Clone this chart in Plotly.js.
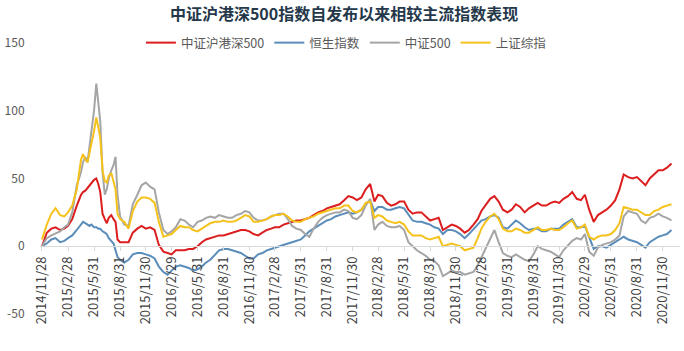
<!DOCTYPE html>
<html>
<head>
<meta charset="utf-8">
<script src="https://cdn.plot.ly/plotly-3.0.1.min.js"></script>
<style>html,body{margin:0;padding:0;background:#fff;}#chart{width:684px;height:351px;}</style>
</head>
<body>
<div id="chart"></div>
<script>
const dates = [
'2014-11-28','2014-12-15','2014-12-31','2015-01-15','2015-01-31','2015-02-15','2015-02-28',
'2015-03-15','2015-03-31','2015-04-08','2015-04-15','2015-04-22','2015-04-30','2015-05-08','2015-05-15','2015-05-22','2015-05-31','2015-06-08',
'2015-06-15','2015-06-22','2015-06-30','2015-07-08','2015-07-15','2015-07-22','2015-07-31','2015-08-08','2015-08-15',
'2015-08-22','2015-08-31','2015-09-15','2015-09-30',
'2015-10-15','2015-10-31','2015-11-15','2015-11-30','2015-12-15','2015-12-31',
'2016-01-15','2016-01-31','2016-02-15','2016-02-29','2016-03-15','2016-03-31','2016-04-15','2016-04-30','2016-05-15','2016-05-31','2016-06-15','2016-06-30',
'2016-07-15','2016-07-31','2016-08-15','2016-08-31','2016-09-15','2016-09-30','2016-10-15','2016-10-31','2016-11-15','2016-11-30','2016-12-15','2016-12-31',
'2017-01-15','2017-01-31','2017-02-15','2017-02-28','2017-03-15','2017-03-31','2017-04-15','2017-04-30','2017-05-15','2017-05-31','2017-06-15','2017-06-30',
'2017-07-15','2017-07-31','2017-08-15','2017-08-31','2017-09-15','2017-09-30','2017-10-15','2017-10-31','2017-11-15','2017-11-30','2017-12-15','2017-12-31',
'2018-01-15','2018-01-31','2018-02-15','2018-02-28','2018-03-15','2018-03-31','2018-04-15','2018-04-30','2018-05-15','2018-05-31','2018-06-15','2018-06-30',
'2018-07-15','2018-07-31','2018-08-15','2018-08-31','2018-09-15','2018-09-30','2018-10-15','2018-10-31','2018-11-15','2018-11-30','2018-12-15','2018-12-31',
'2019-01-15','2019-01-31','2019-02-15','2019-02-28','2019-03-15','2019-03-31','2019-04-15','2019-04-30','2019-05-15','2019-05-31','2019-06-15','2019-06-30',
'2019-07-15','2019-07-31','2019-08-15','2019-08-31','2019-09-15','2019-09-30','2019-10-15','2019-10-31','2019-11-15','2019-11-30','2019-12-15','2019-12-31',
'2020-01-15','2020-01-31','2020-02-15','2020-02-29','2020-03-15','2020-03-31','2020-04-15','2020-04-30','2020-05-15','2020-05-31','2020-06-15','2020-06-30',
'2020-07-15','2020-07-31','2020-08-15','2020-08-31','2020-09-15','2020-09-30','2020-10-15','2020-10-31','2020-11-15','2020-11-30','2020-12-15','2020-12-31'
];

const hs500 = [
0,10,13,14,12,13,15, 20,30,35,38,40,41,43,45,47,49,50, 46,40,24,20,17,21,23,20,18, 5,3,3,3,
10,13,15,13,14,12,
1,-4,-5,-6,-3,-3,-3,-2,-2,0,3,5,6,7,8,8,9,10,11,12,12,11,9,8,
10,12,13,14,14,16,17,18,19,19,20,21,23,25,26,28,29,30,31,34,37,36,34,36,
42,46,33,38,37,32,30,31,33,33,27,24,25,25,22,19,20,21,12,14,16,15,13,10,
12,16,20,26,30,35,37,33,27,25,27,31,29,25,28,30,32,30,30,32,33,32,35,37,
40,35,34,38,27,18,23,25,27,30,34,42,53,51,50,51,48,45,50,53,56,56,58,61
];

const hsi = [
0,2,5,6,3,4,6, 8,12,14,16,18,17,16,15,16,14,14, 13,13,11,10,9,6,4,2,-3, -8,-10,-12,-10,
-6,-5,-5,-6,-7,-9,
-15,-19,-21,-18,-15,-14,-15,-16,-18,-17,-15,-12,-10,-6,-3,-2,-2,-3,-4,-5,-7,-9,-9,-6,
-5,-3,-2,-1,0,1,2,3,4,5,8,11,13,15,17,19,20,22,23,24,25,24,25,27,
31,34,26,29,29,27,27,28,29,28,23,19,18,18,17,16,14,13,9,12,12,11,9,6,
9,13,16,19,20,22,23,21,14,13,16,19,17,14,12,13,13,11,11,13,13,13,16,18,
20,14,14,15,6,-2,0,0,-1,1,3,5,7,5,4,3,1,-1,3,5,7,8,9,12
];

const csi500 = [
0,6,8,9.5,11,14,16, 25,45,50,55,62,66,62,75,85,100,120, 108,92,55,38,42,50,56,60,66, 38,22,16,15,
31,38,45,47,44,42,
25,12,9,11,14,20,19,16,14,18,19,21,22,21,23,22,21,21,23,24,26,25,21,19,
19,20,22,23,24,24,20,15,13,12,9,7,13,18,21,23,24,25,25,27,26,21,20,23,
30,35,12,16,18,15,14,14,15,12,3,0,-3,-5,-7,-10,-11,-14,-22,-20,-18,-19,-19,-21,
-20,-19,-14,-8,-1,6,12,3,-5,-7,-8,-6,-8,-10,-11,-6,0,-2,-3,-4,-6,-8,-3,1,
4,6,5,9,-4,-7,-1,1,2,3,5,8,22,26,25,24,19,17,21,22,24,22,21,19
];

const shcomp = [
5,16,24,28,23,22,25, 30,42,55,64,68,64,62,70,76,85,95, 88,80,56,48,47,52,54,48,42, 24,20,18,13,
26,33,36,36,35,32,
18,7,8,9,12,15,14,14,12,11,13,15,17,18,18,19,18,18,19,21,23,22,18,18,
19,20,22,23,23,24,22,19,18,18,20,21,22,24,25,26,27,28,28,30,30,26,25,27,
32,33,21,23,22,19,18,17,18,16,11,8,8,8,6,5,6,7,0,1,2,1,0,-3,
-2,-1,6,13,18,22,24,20,13,11,11,13,12,10,10,12,14,12,12,13,12,12,14,17,
19,13,14,16,7,5,7,8,8,9,12,17,29,28,27,27,25,23,23,26,27,29,30,31
];

const seriesNames = ['中证沪港深500','恒生指数','中证500','上证综指'];
const seriesColors = ['#DC1E1E','#5B8DBA','#A5A5A5','#F5C21B'];

const tickDates = ['2014-11-28','2015-02-28','2015-05-31','2015-08-31','2015-11-30','2016-02-29','2016-05-31','2016-08-31','2016-11-30',
'2017-02-28','2017-05-31','2017-08-31','2017-11-30','2018-02-28','2018-05-31','2018-08-31','2018-11-30',
'2019-02-28','2019-05-31','2019-08-31','2019-11-30','2020-02-29','2020-05-31','2020-08-31','2020-11-30'];
const tickLabels = ['2014/11/28','2015/2/28','2015/5/31','2015/8/31','2015/11/30','2016/2/29','2016/5/31','2016/8/31','2016/11/30',
'2017/2/28','2017/5/31','2017/8/31','2017/11/30','2018/2/28','2018/5/31','2018/8/31','2018/11/30',
'2019/2/28','2019/5/31','2019/8/31','2019/11/30','2020/2/29','2020/5/31','2020/8/31','2020/11/30'];

const values = [hs500, hsi, csi500, shcomp];
const FONT = '"Microsoft YaHei", "Noto Sans CJK SC", sans-serif';

const traces = values.map((v, i) => ({
  x: dates, y: v, type: 'scatter', mode: 'lines', name: seriesNames[i],
  line: {color: seriesColors[i], width: 2}, hoverinfo: 'skip'
}));

const layout = {
  width: 684, height: 351,
  margin: {l: 40, r: 4, t: 43, b: 37},
  paper_bgcolor: '#fff', plot_bgcolor: '#fff',
  font: {family: FONT, size: 12, color: '#595959'},
  title: {text: '<b>中证沪港深500指数自发布以来相较主流指数表现</b>', font: {family: FONT, size: 16, color: '#24384a'},
          x: 0.503, xanchor: 'center', y: 0.96, yanchor: 'middle'},
  showlegend: true,
  legend: {orientation: 'h', x: 0.478, xanchor: 'center', y: 1.0, yanchor: 'middle',
           font: {family: FONT, size: 12.5, color: '#595959'}, bgcolor: 'rgba(0,0,0,0)', itemwidth: 30, tracegroupgap: 0},
  xaxis: {type: 'date', range: ['2014-11-21', '2021-01-30'], anchor: 'free', position: 0.25,
          tickmode: 'array', tickvals: tickDates, ticktext: tickLabels, tickangle: -90,
          tickfont: {family: FONT, size: 13, color: '#404040'},
          showline: true, linecolor: '#d9d9d9', linewidth: 1, ticks: 'outside', ticklen: 4, tickcolor: '#d9d9d9',
          showgrid: false, zeroline: false, automargin: false},
  yaxis: {range: [-50, 150], tickvals: [-50, 0, 50, 100, 150], ticktext: ['-50','0','50','100','150'],
          showgrid: false, zeroline: false, showline: false, ticks: 'outside', ticklen: 12, tickcolor: 'rgba(0,0,0,0)',
          tickfont: {family: FONT, size: 12, color: '#595959'}, automargin: false}
};

Plotly.newPlot('chart', traces, layout, {staticPlot: true, displayModeBar: false});
</script>
</body>
</html>
